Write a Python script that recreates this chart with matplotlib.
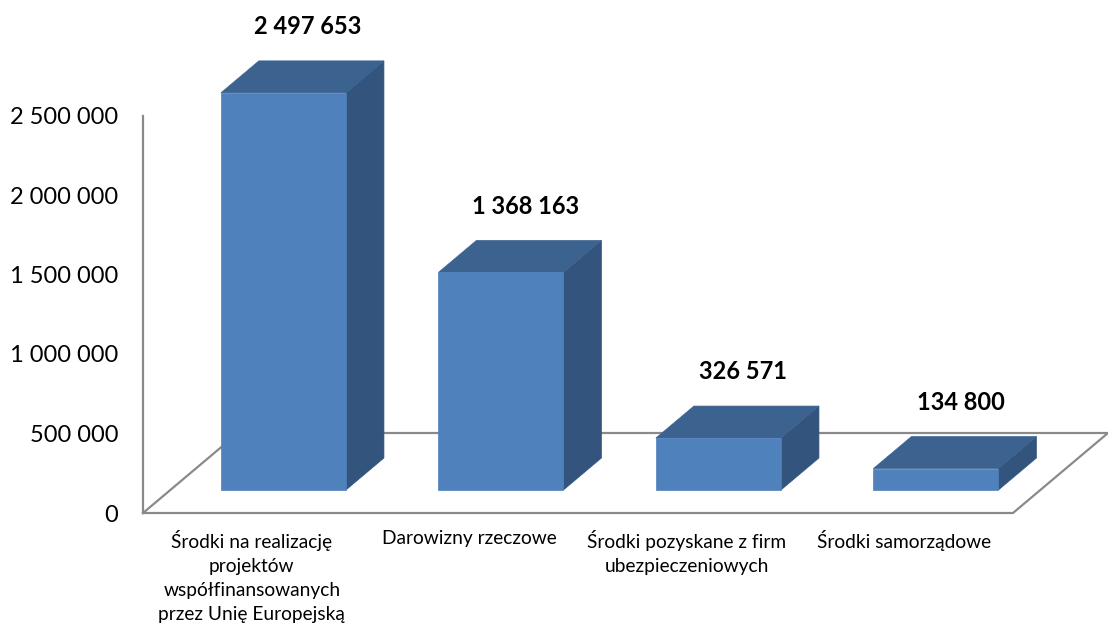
import matplotlib
matplotlib.use("Agg")
from matplotlib import pyplot as plt
from matplotlib.patches import Polygon

plt.rcParams['font.family'] = ['Lato', 'DejaVu Sans']

# dane
kategorie = ["Środki na realizację\nprojektów\nwspółfinansowanych\nprzez Unię Europejską",
             "Darowizny rzeczowe",
             "Środki pozyskane z firm\nubezpieczeniowych",
             "Środki samorządowe"]
wartosci = [2497653, 1368163, 326571, 134800]
yticks = [0, 500000, 1000000, 1500000, 2000000, 2500000]

# kolory
FRONT = "#4f81bd"
TOP = "#3c6290"
SIDE = "#33547d"
GREY = "#8a8a8a"

# geometria "3D" (rzut ukosny)
PX_X = 217.5            # px na kategorie
PX_V = 79.5 / 500000    # px na jednostke wartosci
DX = 95 / PX_X          # przesuniecie glebokosci w x (na cala glebokosc)
DV = 80 / PX_V          # przesuniecie glebokosci w wartosci
D0 = 0.2875             # przod slupka
BD = 0.40               # glebokosc slupka
SZER = 0.575


def rzut(x, d, v):
    return (x + d * DX, v + d * DV)


fig = plt.figure(figsize=(11.08, 6.28), dpi=100)
ax = fig.add_axes([143 / 1108, 115 / 628, 965 / 1108, 513 / 628])
ax.set_xlim(0, 965 / PX_X)
ax.set_ylim(0, 513 / PX_V)
for s in ax.spines.values():
    s.set_visible(False)

n = len(wartosci)
# podloga
podloga = [rzut(0, 0, 0), rzut(n, 0, 0), rzut(n, 1, 0), rzut(0, 1, 0), rzut(0, 0, 0)]
ax.plot([p[0] for p in podloga], [p[1] for p in podloga], color=GREY, lw=1.6,
        clip_on=False, zorder=1, solid_joinstyle='miter')
# os pionowa
ax.plot([0, 0], [0, yticks[-1]], color=GREY, lw=1.6, clip_on=False, zorder=1)

for i, v in enumerate(wartosci):
    x0 = i + 0.52 - SZER / 2
    x1 = x0 + SZER
    d1 = D0 + BD
    front = [rzut(x0, D0, 0), rzut(x1, D0, 0), rzut(x1, D0, v), rzut(x0, D0, v)]
    top = [rzut(x0, D0, v), rzut(x1, D0, v), rzut(x1, d1, v), rzut(x0, d1, v)]
    side = [rzut(x1, D0, 0), rzut(x1, d1, 0), rzut(x1, d1, v), rzut(x1, D0, v)]
    ax.add_patch(Polygon(side, closed=True, facecolor=SIDE, edgecolor=SIDE, lw=0.5, zorder=3))
    ax.add_patch(Polygon(top, closed=True, facecolor=TOP, edgecolor=TOP, lw=0.5, zorder=3))
    ax.add_patch(Polygon(front, closed=True, facecolor=FRONT, edgecolor=FRONT, lw=0.5, zorder=4))
    lx, ly = rzut(i + 0.52, D0 + BD / 2, v)
    ax.annotate(f"{v:,}".replace(",", " "), (lx, ly), xytext=(4, 28),
                textcoords="offset points", ha="center", va="bottom",
                fontsize=17, fontweight="bold", zorder=5)

ax.set_yticks(yticks)
ax.set_yticklabels([f"{t:,}".replace(",", " ") for t in yticks], fontsize=17)
ax.set_xticks([i + 0.5 for i in range(n)])
ax.set_xticklabels(kategorie, fontsize=13.8, linespacing=1.5, va="top")
ax.tick_params(axis="y", length=0, pad=18)
ax.tick_params(axis="x", length=0, pad=12)

fig.savefig("out.png", dpi=100)
